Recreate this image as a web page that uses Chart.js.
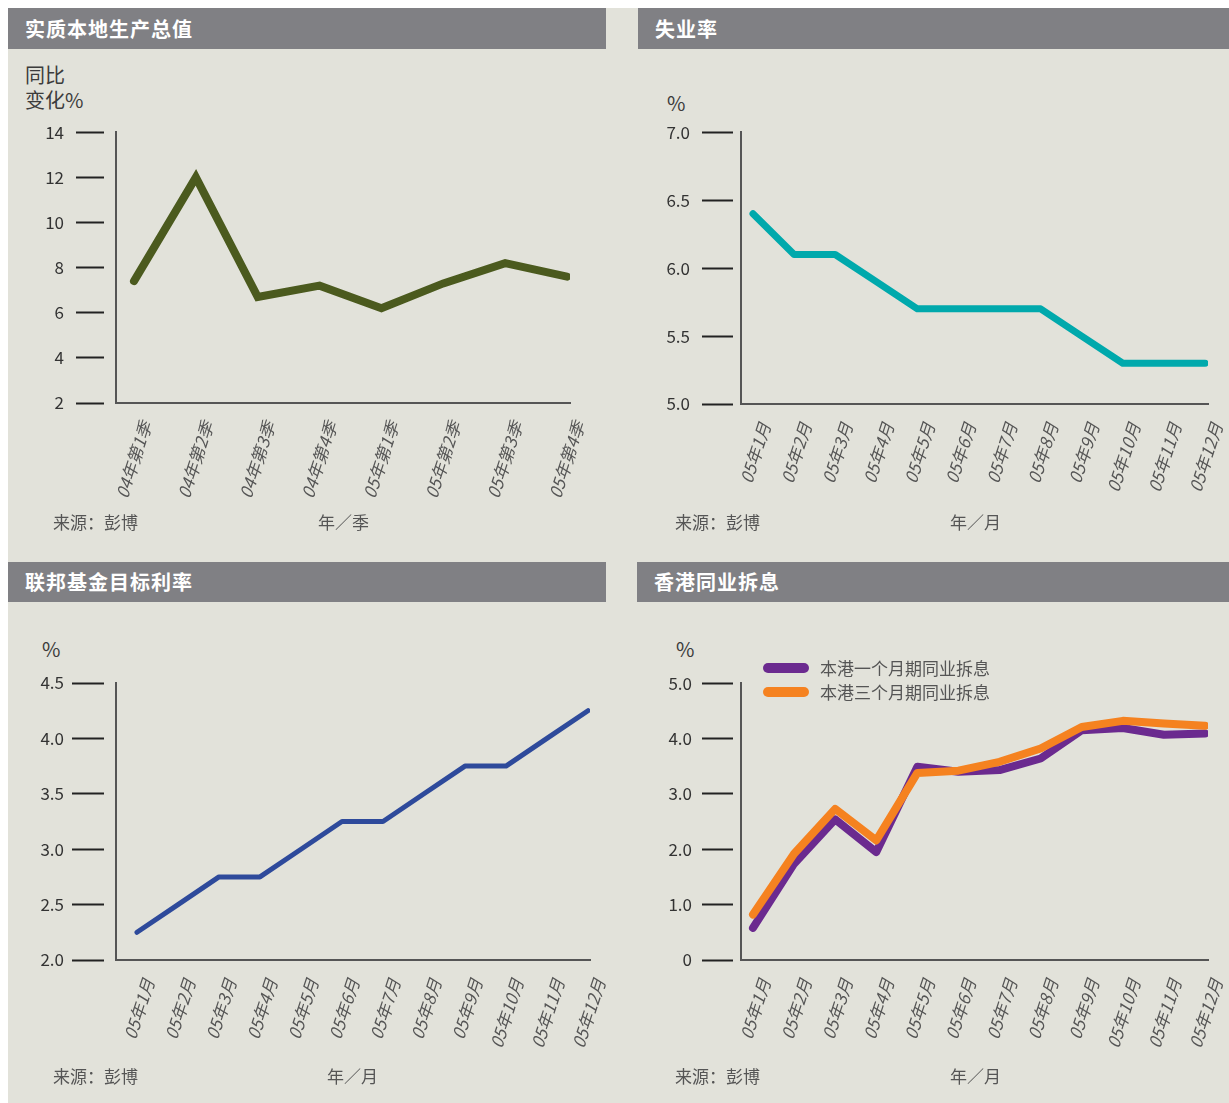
<!DOCTYPE html>
<html>
<head>
<meta charset="utf-8">
<script src="https://cdn.jsdelivr.net/npm/chart.js@4.4.0/dist/chart.umd.min.js"></script>
<style>
  body { margin: 0; background: #fff; }
  #page { position: relative; width: 1229px; height: 1103px; overflow: hidden; font-family: "Noto Sans CJK SC", "Noto Sans", sans-serif; }
  .bg { position: absolute; left: 8px; top: 8px; right: 0; bottom: 0; background: #e2e2da; }
  .head { position: absolute; background: #808084; color: #fff; font-weight: bold; font-size: 20px; padding-left: 17px; box-sizing: border-box; letter-spacing: 1px; }
  .txt { position: absolute; white-space: nowrap; line-height: 24px; }
  .unit { font-size: 20px; color: #3c3c3c; }
  .foot { font-size: 17px; color: #555; }
  .swatch { position: absolute; width: 46px; height: 10px; border-radius: 5px; }
  canvas { position: absolute; }
</style>
</head>
<body>
<div id="page">
  <div class="bg"></div>

  <div class="head" style="left:8px;top:8px;width:598px;height:41px;line-height:41px;">实质本地生产总值</div>
  <div class="head" style="left:638px;top:8px;width:591px;height:41px;line-height:41px;">失业率</div>
  <div class="head" style="left:8px;top:562px;width:598px;height:40px;line-height:40px;">联邦基金目标利率</div>
  <div class="head" style="left:637px;top:562px;width:592px;height:40px;line-height:40px;">香港同业拆息</div>

  <div class="txt unit" style="left:25px;top:63px;">同比</div>
  <div class="txt unit" style="left:25px;top:88px;">变化%</div>
  <div class="txt unit" style="left:667px;top:91px;">%</div>
  <div class="txt unit" style="left:42px;top:637px;">%</div>
  <div class="txt unit" style="left:676px;top:637px;">%</div>

  <canvas id="gdp" width="600" height="420" style="left:8px;top:110px;"></canvas>
  <canvas id="unemp" width="592" height="420" style="left:637px;top:110px;"></canvas>
  <canvas id="fed" width="600" height="420" style="left:8px;top:663px;"></canvas>
  <canvas id="hibor" width="592" height="420" style="left:637px;top:663px;"></canvas>

  <div class="swatch" style="left:763px;top:663px;background:#6b2a8f;"></div>
  <div class="txt foot" style="left:820px;top:656px;">本港一个月期同业拆息</div>
  <div class="swatch" style="left:763px;top:687px;background:#f58220;"></div>
  <div class="txt foot" style="left:820px;top:680px;">本港三个月期同业拆息</div>

  <div class="txt foot" style="left:53px;top:510px;">来源：彭博</div>
  <div class="txt foot" style="left:318px;top:510px;">年／季</div>
  <div class="txt foot" style="left:675px;top:510px;">来源：彭博</div>
  <div class="txt foot" style="left:950px;top:510px;">年／月</div>
  <div class="txt foot" style="left:53px;top:1064px;">来源：彭博</div>
  <div class="txt foot" style="left:327px;top:1064px;">年／月</div>
  <div class="txt foot" style="left:675px;top:1064px;">来源：彭博</div>
  <div class="txt foot" style="left:950px;top:1064px;">年／月</div>
</div>

<script>
const quarterLabels = ["04年第1季", "04年第2季", "04年第3季", "04年第4季", "05年第1季", "05年第2季", "05年第3季", "05年第4季"];
const monthLabels = ["05年1月", "05年2月", "05年3月", "05年4月", "05年5月", "05年6月", "05年7月", "05年8月", "05年9月", "05年10月", "05年11月", "05年12月"];

const gdpValues = [7.4, 12.0, 6.7, 7.2, 6.2, 7.3, 8.2, 7.6];
const unempValues = [6.4, 6.1, 6.1, 5.9, 5.7, 5.7, 5.7, 5.7, 5.5, 5.3, 5.3, 5.3];
const fedValues = [2.25, 2.5, 2.75, 2.75, 3.0, 3.25, 3.25, 3.5, 3.75, 3.75, 4.0, 4.25];
const hibor1mValues = [0.58, 1.74, 2.54, 1.95, 3.49, 3.4, 3.43, 3.64, 4.15, 4.19, 4.07, 4.09];
const hibor3mValues = [0.82, 1.92, 2.73, 2.16, 3.38, 3.42, 3.58, 3.82, 4.21, 4.32, 4.27, 4.23];

const gdpTicks = [2, 4, 6, 8, 10, 12, 14];
const unempTicks = [5.0, 5.5, 6.0, 6.5, 7.0];
const fedTicks = [2.0, 2.5, 3.0, 3.5, 4.0, 4.5];
const hiborTicks = [0, 1, 2, 3, 4, 5];

const FONT = "'Noto Sans CJK SC', 'Noto Sans', sans-serif";

function lineChart(id, o) {
  const ctx = document.getElementById(id).getContext("2d");
  return new Chart(ctx, {
    type: "line",
    data: {
      datasets: o.series.map((s) => ({
        data: s.values.map((v, i) => ({ x: i, y: v })),
        borderColor: s.color,
        borderWidth: s.width,
        borderCapStyle: "round",
        borderJoinStyle: s.join || "round",
        pointRadius: 0,
        tension: 0,
        order: s.order || 0,
      })),
    },
    options: {
      responsive: false,
      animation: false,
      devicePixelRatio: 1,
      layout: { padding: { top: o.top, right: o.right, bottom: 0, left: 0 } },
      plugins: { legend: { display: false }, tooltip: { enabled: false } },
      scales: {
        x: {
          type: "linear",
          min: o.xMin,
          max: o.xMax,
          afterBuildTicks: (s) => { s.ticks = o.labels.map((_, i) => ({ value: i })); },
          afterFit: (s) => {
            s.height = o.xHeight;
            s.paddingLeft = 0;
            s.paddingRight = 0;
          },
          grid: { display: false },
          border: { color: "#555", width: 2 },
          ticks: {
            autoSkip: false,
            minRotation: 72,
            maxRotation: 72,
            padding: 8,
            labelOffset: 12,
            color: "#555",
            font: { family: FONT, size: 17, style: "italic" },
            callback: (v) => o.labels[v],
          },
        },
        y: {
          min: o.yTicks[0],
          max: o.yTicks[o.yTicks.length - 1],
          afterBuildTicks: (s) => { s.ticks = o.yTicks.map((v) => ({ value: v })); },
          afterFit: (s) => { s.width = o.yWidth; },
          grid: {
            drawOnChartArea: false,
            tickLength: o.tickLen + o.tickGap,
            tickBorderDash: [o.tickLen, 300],
            tickColor: "#222",
            tickWidth: 2,
          },
          border: { color: "#555", width: 2 },
          ticks: {
            padding: o.labelPad,
            color: "#333",
            font: { family: FONT, size: 17 },
            callback: o.fmt,
          },
        },
      },
    },
  });
}

const oneDecimal = (v) => v.toFixed(1);

lineChart("gdp", {
  labels: quarterLabels, yTicks: gdpTicks, fmt: (v) => String(v),
  series: [{ values: gdpValues, color: "#4b5a1e", width: 8, join: "miter" }],
  top: 21, right: 38, xHeight: 127, yWidth: 108, tickLen: 28, tickGap: 12, labelPad: 12,
  xMin: -0.291, xMax: 7.048,
});

lineChart("unemp", {
  labels: monthLabels, yTicks: unempTicks, fmt: oneDecimal,
  series: [{ values: unempValues, color: "#00a9ac", width: 7 }],
  top: 22, right: 21, xHeight: 126, yWidth: 104, tickLen: 31, tickGap: 8, labelPad: 12,
  xMin: -0.292, xMax: 11.073,
});

lineChart("fed", {
  labels: monthLabels, yTicks: fedTicks, fmt: oneDecimal,
  series: [{ values: fedValues, color: "#2e4a9b", width: 5 }],
  top: 20, right: 18, xHeight: 123, yWidth: 108, tickLen: 32, tickGap: 12, labelPad: 8,
  xMin: -0.512, xMax: 11.05,
});

lineChart("hibor", {
  labels: monthLabels, yTicks: hiborTicks, fmt: (v) => (v === 0 ? "0" : v.toFixed(1)),
  series: [
    { values: hibor1mValues, color: "#6b2a8f", width: 8, order: 1 },
    { values: hibor3mValues, color: "#f58220", width: 8, order: 0 },
  ],
  top: 20, right: 21, xHeight: 123, yWidth: 104, tickLen: 31, tickGap: 8, labelPad: 10,
  xMin: -0.292, xMax: 11.073,
});
</script>
</body>
</html>
